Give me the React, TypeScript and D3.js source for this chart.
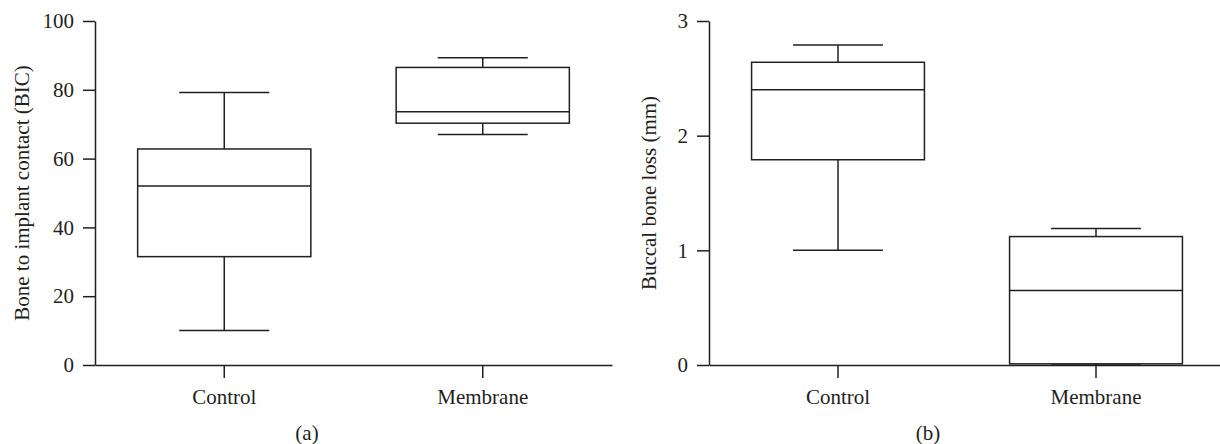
import * as d3 from "d3";
import { useRef, useEffect } from "react";

// --- data ---
const categories = ["Control", "Membrane"];

// (a) bone to implant contact
const bicMin = [10, 67];
const bicQ1 = [31.5, 70.3];
const bicMedian = [52, 73.6];
const bicQ3 = [62.8, 86.5];
const bicMax = [79.2, 89.3];
const bicTicks = [0, 20, 40, 60, 80, 100];

// (b) buccal bone loss
const lossMin = [1.0, 0];
const lossQ1 = [1.79, 0.01];
const lossMedian = [2.4, 0.65];
const lossQ3 = [2.64, 1.12];
const lossMax = [2.79, 1.19];
const lossTicks = [0, 1, 2, 3];

const INK = "#231f20";
const FONT = "Liberation Serif, serif";
const FONT_SIZE = "21px";

type Panel = {
  x0: number;
  x1: number;
  yMax: number;
  ticks: number[];
  label: string;
  labelX: number;
  tag: string;
  tagX: number;
  stats: number[][];
};

const panels: Panel[] = [
  {
    x0: 95, x1: 612, yMax: 100, ticks: bicTicks,
    label: "Bone to implant contact (BIC)", labelX: 22,
    tag: "(a)", tagX: 307,
    stats: [bicMin, bicQ1, bicMedian, bicQ3, bicMax],
  },
  {
    x0: 709, x1: 1225, yMax: 3, ticks: lossTicks,
    label: "Buccal bone loss (mm)", labelX: 649,
    tag: "(b)", tagX: 928,
    stats: [lossMin, lossQ1, lossMedian, lossQ3, lossMax],
  },
];

export default function App() {
  const ref = useRef<SVGSVGElement>(null);

  useEffect(() => {
    const width = 1220;
    const height = 444;
    const top = 21;
    const bottom = 365;

    const svg = d3.select(ref.current)
      .attr("width", width)
      .attr("height", height)
      .attr("viewBox", `0 0 ${width} ${height}`);

    svg.selectAll("*").remove();
    svg.append("rect").attr("width", width).attr("height", height).attr("fill", "#fff");

    panels.forEach(p => {
      const y = d3.scaleLinear().domain([0, p.yMax]).range([bottom, top]);
      const x = d3.scaleBand().domain(categories).range([p.x0, p.x1]).padding(0);
      const boxW = x.bandwidth() * 0.67;
      const capW = boxW * 0.52;

      const g = svg.append("g");

      const rows = categories.map((c, i) => ({
        cat: c,
        min: p.stats[0][i], q1: p.stats[1][i], med: p.stats[2][i],
        q3: p.stats[3][i], max: p.stats[4][i],
      }));

      const box = g.selectAll("g.box")
        .data(rows)
        .join("g")
        .attr("class", "box")
        .attr("stroke", INK)
        .attr("stroke-width", 1.5)
        .attr("fill", "none");

      const cx = (d: any) => x(d.cat)! + x.bandwidth() / 2;

      // whiskers + caps
      box.append("line")
        .attr("x1", cx).attr("x2", cx)
        .attr("y1", d => y(d.max)).attr("y2", d => y(d.q3));
      box.append("line")
        .attr("x1", cx).attr("x2", cx)
        .attr("y1", d => y(d.q1)).attr("y2", d => y(d.min));
      box.append("line")
        .attr("x1", d => cx(d) - capW / 2).attr("x2", d => cx(d) + capW / 2)
        .attr("y1", d => y(d.max)).attr("y2", d => y(d.max));
      box.append("line")
        .attr("x1", d => cx(d) - capW / 2).attr("x2", d => cx(d) + capW / 2)
        .attr("y1", d => y(d.min)).attr("y2", d => y(d.min));

      box.append("rect")
        .attr("x", d => cx(d) - boxW / 2)
        .attr("width", boxW)
        .attr("y", d => y(d.q3))
        .attr("height", d => y(d.q1) - y(d.q3));

      box.append("line")
        .attr("x1", d => cx(d) - boxW / 2).attr("x2", d => cx(d) + boxW / 2)
        .attr("y1", d => y(d.med)).attr("y2", d => y(d.med));

      // axes
      const yAxis = g.append("g")
        .attr("transform", `translate(${p.x0},0)`)
        .call(d3.axisLeft(y).tickValues(p.ticks).tickFormat(d3.format("~g"))
          .tickSize(12).tickSizeOuter(0).tickPadding(9));
      const xAxis = g.append("g")
        .attr("transform", `translate(0,${bottom})`)
        .call(d3.axisBottom(x).tickSize(13).tickSizeOuter(0).tickPadding(11));

      [yAxis, xAxis].forEach(a => {
        a.attr("font-family", FONT).attr("font-size", FONT_SIZE);
        a.selectAll("path, line").attr("stroke", INK).attr("stroke-width", 1.5);
        a.selectAll("text").attr("fill", INK);
      });

      // y label
      g.append("text")
        .attr("transform", `translate(${p.labelX},${(top + bottom) / 2}) rotate(-90)`)
        .attr("text-anchor", "middle")
        .attr("dominant-baseline", "central")
        .attr("fill", INK)
        .attr("font-family", FONT)
        .attr("font-size", FONT_SIZE)
        .text(p.label);

      // panel tag
      g.append("text")
        .attr("x", p.tagX)
        .attr("y", 433)
        .attr("text-anchor", "middle")
        .attr("dominant-baseline", "central")
        .attr("fill", INK)
        .attr("font-family", FONT)
        .attr("font-size", FONT_SIZE)
        .text(p.tag);
    });
  }, []);

  return (
    <svg ref={ref} style={{ position: "absolute", left: 0, top: 0, display: "block" }}></svg>
  );
}
